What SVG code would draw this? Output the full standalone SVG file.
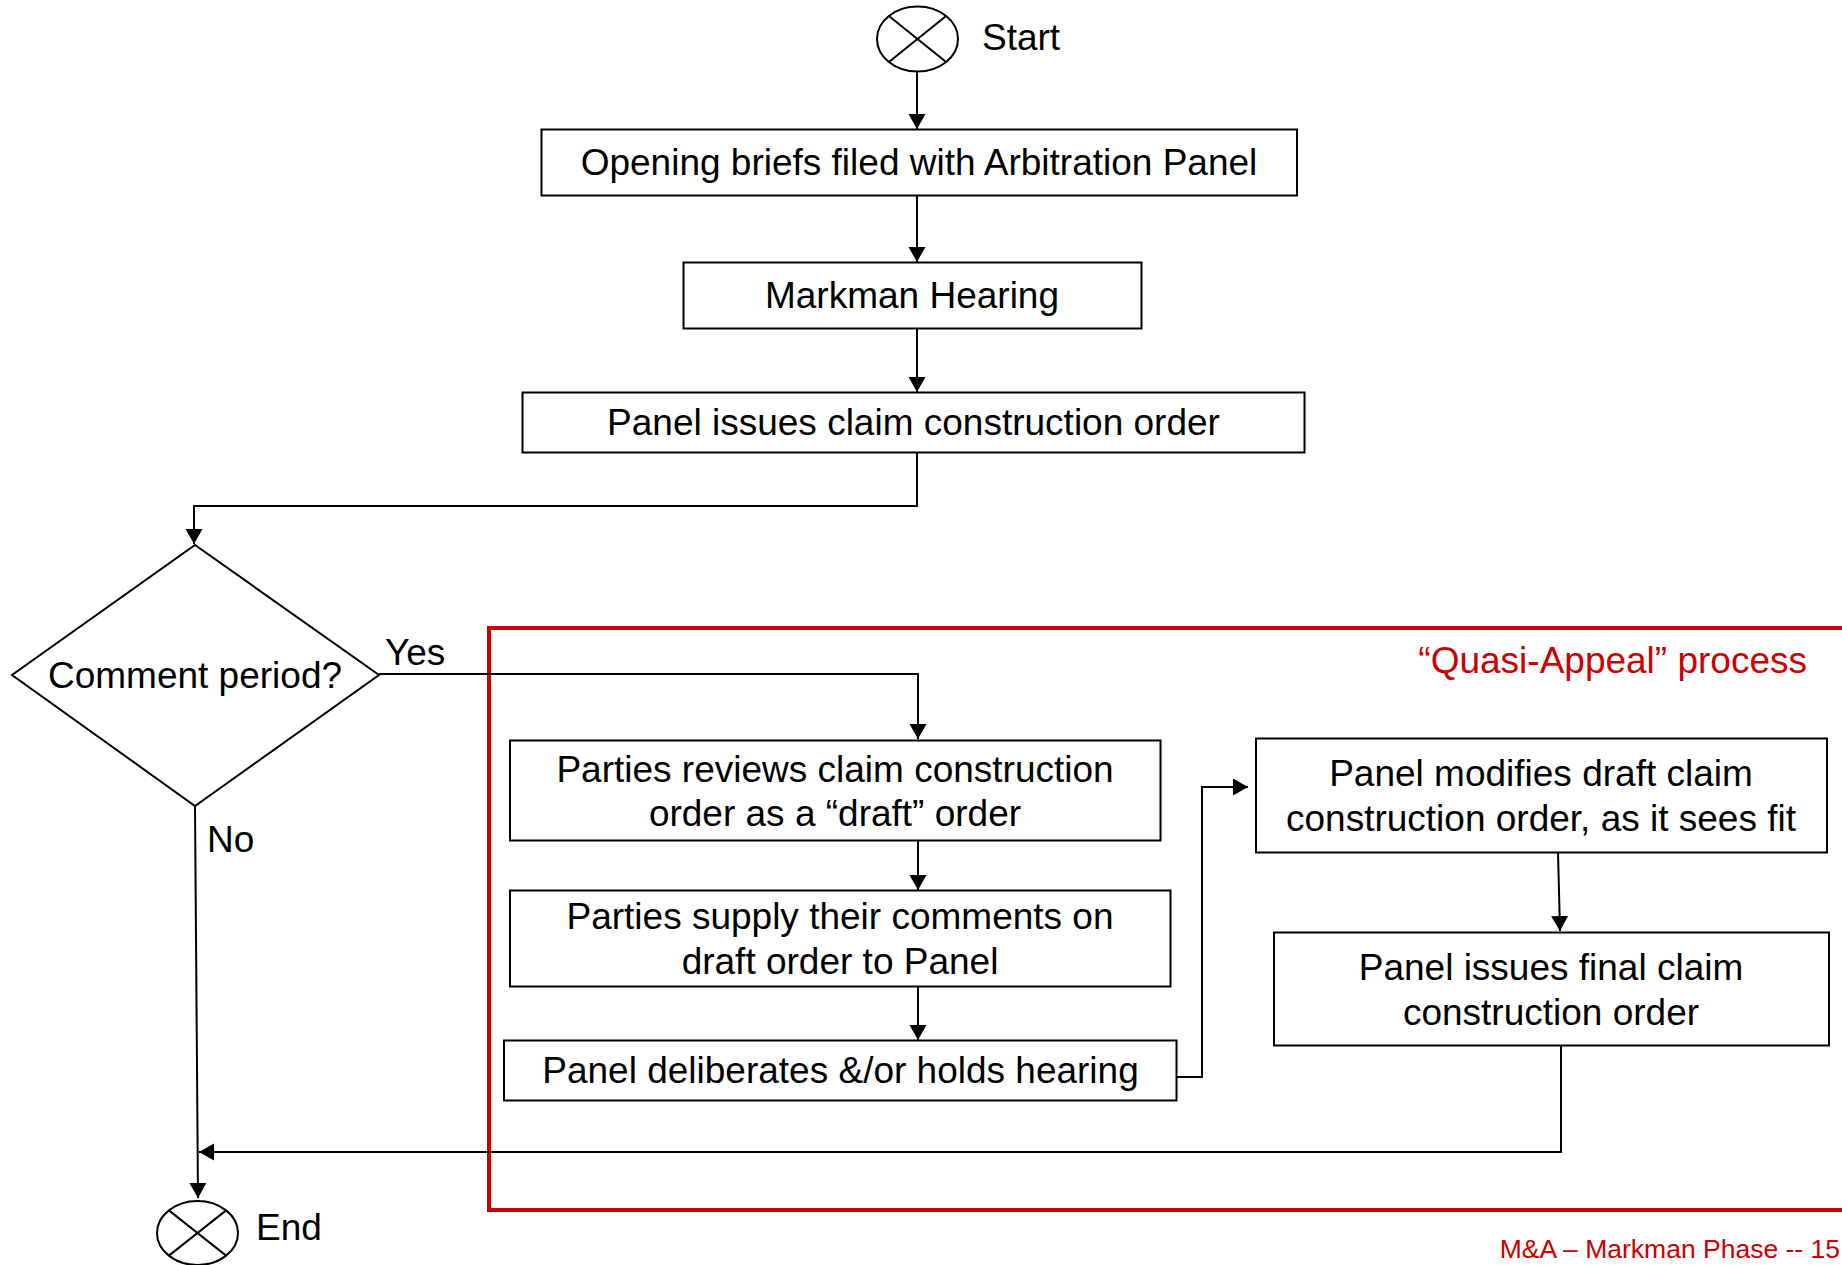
<svg xmlns="http://www.w3.org/2000/svg" width="1842" height="1265" viewBox="0 0 1842 1265">
  <style>
    .box { fill: #ffffff; stroke: #000000; stroke-width: 2; }
    .term { fill: #ffffff; stroke: #000000; stroke-width: 2; }
    .txt { font-family: "Liberation Sans", Arial, sans-serif; font-size: 37px; fill: #000000; text-anchor: middle; }
    .lbl { font-family: "Liberation Sans", Arial, sans-serif; font-size: 37px; fill: #000000; }
    .red { font-family: "Liberation Sans", Arial, sans-serif; fill: #cc0000; }
    .conn { fill: none; stroke: #000000; stroke-width: 2; }
  </style>
  <defs>
    <marker id="arrow" markerUnits="userSpaceOnUse" markerWidth="16" markerHeight="18" refX="15" refY="8.5" orient="auto">
      <path d="M0,0 L15,8.5 L0,17 z" fill="#000000"/>
    </marker>
  </defs>

  <rect width="1842" height="1265" fill="#ffffff"/>

  <!-- Quasi-appeal region -->
  <g id="quasi-appeal">
    <rect x="489" y="628" width="1420" height="582" fill="none" stroke="#cc0000" stroke-width="4"/>
    <text class="red" x="1807" y="673" font-size="37" text-anchor="end">“Quasi-Appeal” process</text>
  </g>

  <!-- Connectors -->
  <g id="connectors">
    <path class="conn" d="M917,72 L917,129" marker-end="url(#arrow)"/>
    <path class="conn" d="M917,196 L917,262" marker-end="url(#arrow)"/>
    <path class="conn" d="M917,329 L917,392" marker-end="url(#arrow)"/>
    <path class="conn" d="M917,452 L917,506 L194,506 L194,544" marker-end="url(#arrow)"/>
    <path class="conn" d="M379,674 L918,674 L918,739" marker-end="url(#arrow)"/>
    <path class="conn" d="M918,841 L918,890" marker-end="url(#arrow)"/>
    <path class="conn" d="M918,987 L918,1040" marker-end="url(#arrow)"/>
    <path class="conn" d="M1177,1077 L1202,1077 L1202,787 L1248,787" marker-end="url(#arrow)"/>
    <path class="conn" d="M1558,852 L1560,931" marker-end="url(#arrow)"/>
    <path class="conn" d="M1561,1046 L1561,1152 L199,1152" marker-end="url(#arrow)"/>
    <path class="conn" d="M195,806 L198,1198" marker-end="url(#arrow)"/>
    <text class="lbl" x="385" y="665">Yes</text>
    <text class="lbl" x="207" y="852">No</text>
  </g>

  <!-- Nodes -->
  <g id="start">
    <ellipse class="term" cx="917.5" cy="39" rx="40.5" ry="32.5"/>
    <path class="conn" d="M888.9,16 L946.1,62 M946.1,16 L888.9,62"/>
    <text class="lbl" x="982" y="50">Start</text>
  </g>

  <g id="opening-briefs">
    <rect class="box" x="541.5" y="129.5" width="755.5" height="66"/>
    <text class="txt" x="919" y="175">Opening briefs filed with Arbitration Panel</text>
  </g>

  <g id="markman-hearing">
    <rect class="box" x="683.5" y="262.5" width="458" height="66"/>
    <text class="txt" x="912" y="308">Markman Hearing</text>
  </g>

  <g id="claim-construction-order">
    <rect class="box" x="522.5" y="392.5" width="782" height="60"/>
    <text class="txt" x="913.5" y="435">Panel issues claim construction order</text>
  </g>

  <g id="comment-period">
    <polygon class="box" points="195,545 379,675 195,806 12,675"/>
    <text class="txt" x="195" y="688">Comment period?</text>
  </g>

  <g id="parties-review">
    <rect class="box" x="510" y="740.5" width="650.5" height="100"/>
    <text class="txt" x="835" y="782">Parties reviews claim construction</text>
    <text class="txt" x="835" y="826">order as a “draft” order</text>
  </g>

  <g id="parties-comment">
    <rect class="box" x="510" y="890.5" width="660.5" height="96"/>
    <text class="txt" x="840" y="929">Parties supply their comments on</text>
    <text class="txt" x="840" y="974">draft order to Panel</text>
  </g>

  <g id="panel-deliberates">
    <rect class="box" x="504" y="1040.5" width="672.5" height="60"/>
    <text class="txt" x="840.5" y="1083">Panel deliberates &amp;/or holds hearing</text>
  </g>

  <g id="panel-modifies">
    <rect class="box" x="1256" y="738.5" width="571" height="114"/>
    <text class="txt" x="1541" y="786">Panel modifies draft claim</text>
    <text class="txt" x="1541" y="831">construction order, as it sees fit</text>
  </g>

  <g id="final-order">
    <rect class="box" x="1274" y="932.5" width="555" height="113"/>
    <text class="txt" x="1551" y="980">Panel issues final claim</text>
    <text class="txt" x="1551" y="1025">construction order</text>
  </g>

  <g id="end">
    <ellipse class="term" cx="197.5" cy="1233" rx="40.5" ry="32"/>
    <path class="conn" d="M168.9,1210.4 L226.1,1255.6 M226.1,1210.4 L168.9,1255.6"/>
    <text class="lbl" x="256" y="1240">End</text>
  </g>

  <text class="red" x="1840" y="1258" font-size="26.5" text-anchor="end">M&amp;A – Markman Phase -- 15</text>
</svg>
